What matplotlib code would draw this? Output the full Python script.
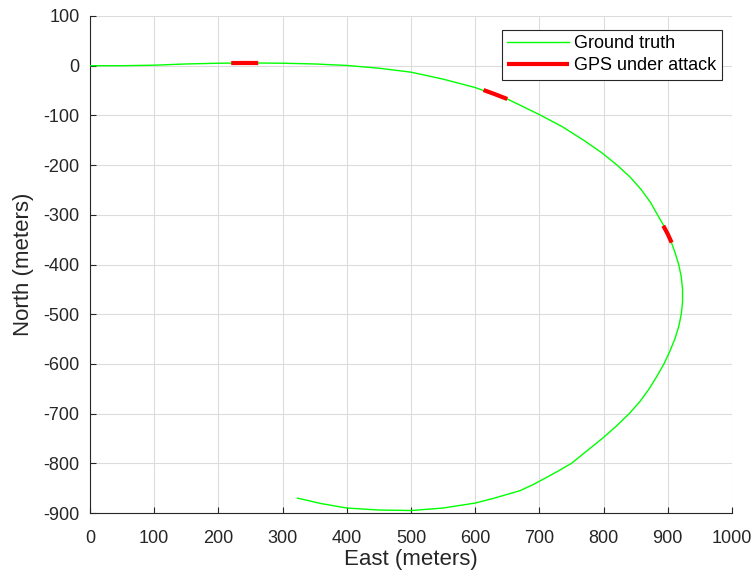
import matplotlib
matplotlib.use('Agg')
import matplotlib.pyplot as plt
import numpy as np

plt.rcParams['font.family'] = ['Liberation Sans', 'DejaVu Sans']
plt.rcParams['axes.unicode_minus'] = False

# vehicle track, east / north in meters
east = [0, 50, 100, 150, 200, 250, 300, 350, 400, 450, 500, 550, 600, 650,
        701, 736, 769, 797, 821, 842, 859, 873, 884, 895, 904, 911, 917, 921,
        923, 923, 921, 917, 911, 903, 894, 883, 871, 857, 840, 820, 798, 774,
        750, 730, 709, 690, 670, 630, 600, 550, 500, 450, 400, 360, 323]
north = [0, 0, 1, 3.5, 5, 5.5, 5, 3.5, 0.5, -5, -13, -27, -44, -67,
         -99, -123, -150, -175, -200, -225, -250, -275, -300, -325, -350,
         -375, -400, -425, -450, -475, -500, -525, -550, -575, -600, -625,
         -650, -675, -700, -725, -750, -775, -800, -815, -830, -843, -855,
         -870, -880, -890, -895, -894, -890, -881, -870]

# stretches where the GPS was spoofed
attacks = [
    ([220, 240, 262], [5.3, 5.5, 5.4]),
    ([613, 630, 650], [-49, -57, -67]),
    ([893, 900, 906], [-322, -339, -356]),
]

fig = plt.figure(figsize=(7.56, 5.74), dpi=100)
ax = fig.add_axes([90 / 756, 1 - 513 / 574, 642 / 756, 497 / 574])

ax.plot(east, north, color=(0, 1, 0), lw=1.0, label='Ground truth', zorder=3)
for i, (ex, ny) in enumerate(attacks):
    ax.plot(ex, ny, color=(1, 0, 0), lw=3.0, solid_capstyle='butt',
            label='GPS under attack' if i == 0 else None, zorder=4)

ax.set_xlim(0, 1000)
ax.set_ylim(-900, 100)
ax.set_xticks(np.arange(0, 1001, 100))
ax.set_yticks(np.arange(-900, 101, 100))

axcol = (0.15, 0.15, 0.15)
ax.grid(True, color='#dcdcdc', lw=0.8)
ax.set_axisbelow(True)
for side in ['top', 'right']:
    ax.spines[side].set_visible(False)
for side in ['left', 'bottom']:
    ax.spines[side].set_color(axcol)
    ax.spines[side].set_linewidth(0.8)
ax.tick_params(direction='in', length=4, width=0.8, colors=axcol,
               labelsize=13)
ax.tick_params(axis='x', pad=12)
ax.tick_params(axis='y', pad=7.5)

ax.set_xlabel('East (meters)', fontsize=16, color=axcol, labelpad=1.5)
ax.set_ylabel('North (meters)', fontsize=16, color=axcol, labelpad=7)

leg = ax.legend(loc='upper right', bbox_to_anchor=(0.984, 0.972),
                borderaxespad=0, fontsize=13, fancybox=False, framealpha=1,
                handlelength=3.4, handletextpad=0.3, borderpad=0.3,
                labelspacing=0.28)
leg.get_frame().set_edgecolor(axcol)
leg.get_frame().set_linewidth(0.8)

fig.savefig('out.png', dpi=100)
